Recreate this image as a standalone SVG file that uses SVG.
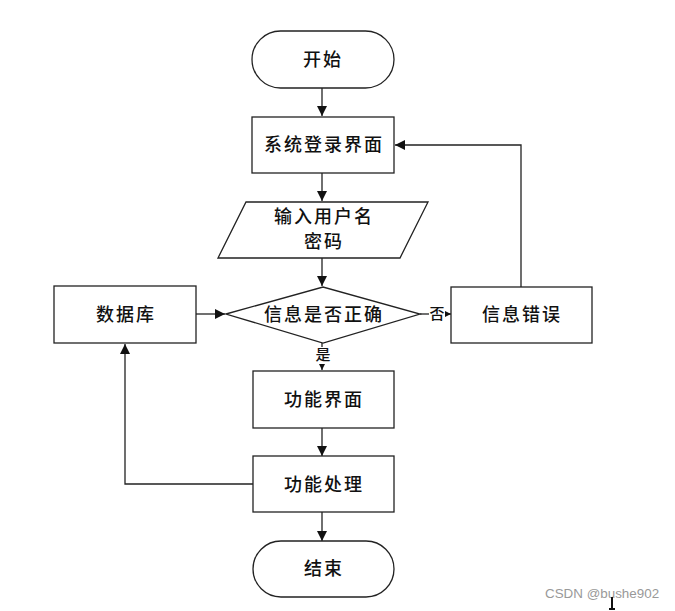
<svg xmlns="http://www.w3.org/2000/svg" width="675" height="611" viewBox="0 0 675 611">
<style>
.shape{fill:#fff;stroke:#222;stroke-width:1.3}
.t{font-family:"Liberation Serif","Noto Sans CJK SC",serif;font-size:18px;font-weight:500;fill:#111;text-anchor:middle;dominant-baseline:central;letter-spacing:2px}
.lbl{font-family:"Liberation Serif","Noto Sans CJK SC",serif;font-size:15px;font-weight:500;fill:#111;text-anchor:middle;dominant-baseline:central}
.c{fill:none;stroke:#222;stroke-width:1.3}
.wm{font-family:"Liberation Sans",Arial,sans-serif;font-size:13.4px;fill:#999}
</style>
<defs>
<marker id="ah" viewBox="0 0 10 10" refX="10" refY="5" markerWidth="10" markerHeight="10" markerUnits="userSpaceOnUse" orient="auto">
<path d="M0,0 L10,5 L0,10 z" fill="#111"/>
</marker>
<marker id="ahs" viewBox="0 0 10 10" refX="10" refY="5" markerWidth="6" markerHeight="6" markerUnits="userSpaceOnUse" orient="auto">
<path d="M0,0 L10,5 L0,10 z" fill="#111"/>
</marker>
</defs>
<rect width="675" height="611" fill="#fff"/>
<g id="connectors">
<line class="c" x1="322" y1="88" x2="322" y2="116" marker-end="url(#ah)"/>
<line class="c" x1="322" y1="173" x2="322" y2="201" marker-end="url(#ah)"/>
<line class="c" x1="322" y1="258" x2="322" y2="286" marker-end="url(#ah)"/>
<line class="c" x1="196" y1="314" x2="225" y2="314" marker-end="url(#ah)"/>
<line class="c" x1="420" y1="314" x2="451" y2="314" marker-end="url(#ahs)"/>
<polyline class="c" points="521,287 521,145 395,145" marker-end="url(#ah)"/>
<line class="c" x1="322" y1="343" x2="322" y2="370" marker-end="url(#ahs)"/>
<line class="c" x1="322" y1="428" x2="322" y2="456" marker-end="url(#ah)"/>
<polyline class="c" points="253,484 125,484 125,344" marker-end="url(#ah)"/>
<line class="c" x1="322" y1="512" x2="322" y2="541" marker-end="url(#ah)"/>
<rect x="429" y="305" width="16" height="18" fill="#fff"/>
<text class="lbl" x="437" y="314">否</text>
<rect x="315" y="347" width="16" height="17" fill="#fff"/>
<text class="lbl" x="323" y="355">是</text>
</g>
<g id="start">
<rect class="shape" x="252" y="31" width="142" height="57" rx="28.5" ry="28.5"/>
<text class="t" x="323" y="60">开始</text>
</g>
<g id="login">
<rect class="shape" x="252" y="117" width="142" height="56"/>
<text class="t" x="324" y="145">系统登录界面</text>
</g>
<g id="input">
<polygon class="shape" points="246,202 428,202 400,258 218,258"/>
<text class="t" x="324" y="217">输入用户名</text>
<text class="t" x="324" y="242">密码</text>
</g>
<g id="check">
<polygon class="shape" points="226,314 323,287 420,314 323,343"/>
<text class="t" x="324" y="315">信息是否正确</text>
</g>
<g id="db">
<rect class="shape" x="54" y="286" width="142" height="57"/>
<text class="t" x="126" y="315">数据库</text>
</g>
<g id="error">
<rect class="shape" x="451" y="287" width="141" height="56"/>
<text class="t" x="522" y="315">信息错误</text>
</g>
<g id="func">
<rect class="shape" x="253" y="371" width="141" height="57"/>
<text class="t" x="324" y="400">功能界面</text>
</g>
<g id="proc">
<rect class="shape" x="253" y="456" width="141" height="56"/>
<text class="t" x="324" y="485">功能处理</text>
</g>
<g id="end">
<rect class="shape" x="253" y="541" width="141" height="56" rx="28" ry="28"/>
<text class="t" x="324" y="569">结束</text>
</g>
<text class="wm" x="545" y="598">CSDN @bushe902</text>
<path d="M612,597 L612,609 M609,609 L615,609" stroke="#111" stroke-width="2" fill="none"/>
</svg>
